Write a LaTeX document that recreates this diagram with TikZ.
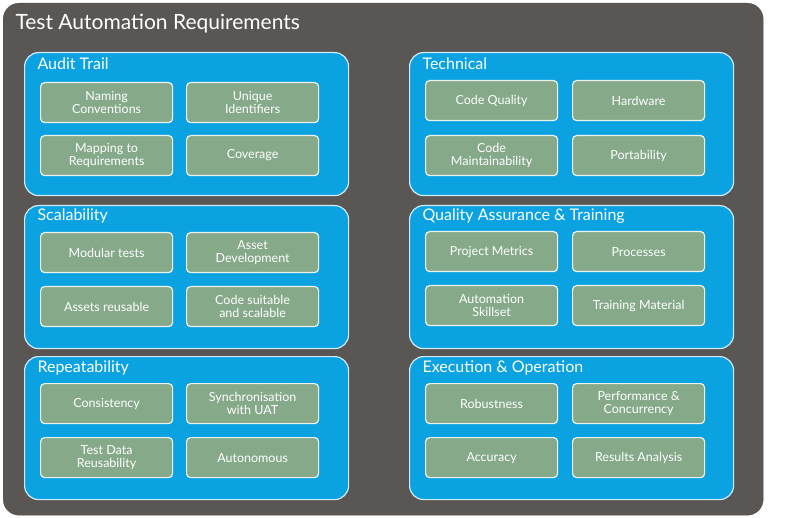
\documentclass[tikz,border=0pt]{standalone}
\usepackage{fontspec}
\setmainfont{Lato}
\definecolor{outerbg}{HTML}{5A5654}
\definecolor{panelblue}{HTML}{0BA2E2}
\definecolor{boxgreen}{HTML}{86A98A}
\begin{document}
\begin{tikzpicture}[x=1pt,y=-1pt,
  panel/.style={draw=white!80!panelblue,line width=1.2pt,fill=panelblue,rounded corners=14pt,minimum width=324pt,minimum height=143pt,anchor=north west},
  ptitle/.style={text=white,anchor=west,font=\fontsize{16}{18}\selectfont},
  item/.style={draw=white!85!boxgreen,line width=1.2pt,fill=boxgreen,rounded corners=4pt,minimum width=132pt,minimum height=40pt,text=white,align=center,font=\fontsize{12.5}{13.5}\selectfont,anchor=north west}]
\useasboundingbox (0,0) rectangle (800,518);
\node[fill=outerbg,draw=black!70,rounded corners=16pt,minimum width=760pt,minimum height=512pt,anchor=north west] (outer) at (3,3) {};
\node[text=white,anchor=west,font=\fontsize{21}{24}\selectfont] (title) at (12,24) {Test Automation Requirements};
% panels
\node[panel] (p1) at (24,52) {};
\node[panel] (p2) at (24,205) {};
\node[panel] (p3) at (24,356) {};
\node[panel] (p4) at (409,52) {};
\node[panel] (p5) at (409,205) {};
\node[panel] (p6) at (409,356) {};
\node[ptitle] (t1) at (34,64) {Audit Trail};
\node[ptitle] (t2) at (34,216) {Scalability};
\node[ptitle] (t3) at (34,368) {Repeatability};
\node[ptitle] (t4) at (419,64) {Technical};
\node[ptitle] (t5) at (419,216) {Quality Assurance \& Training};
\node[ptitle] (t6) at (419,368) {Execution \& Operation};
% audit
\node[item] (a1) at (40,82) {Naming\\Conventions};
\node[item] (a2) at (186,82) {Unique\\Identifiers};
\node[item] (a3) at (40,135) {Mapping to\\Requirements};
\node[item] (a4) at (186,135) {Coverage};
% scalability
\node[item] (s1) at (40,232) {Modular tests};
\node[item] (s2) at (186,232) {Asset\\Development};
\node[item] (s3) at (40,286) {Assets reusable};
\node[item] (s4) at (186,286) {Code suitable\\and scalable};
% repeatability
\node[item] (r1) at (40,383) {Consistency};
\node[item] (r2) at (186,383) {Synchronisation\\with UAT};
\node[item] (r3) at (40,437) {Test Data\\Reusability};
\node[item] (r4) at (186,437) {Autonomous};
% technical
\node[item] (c1) at (425,80) {Code Quality};
\node[item] (c2) at (572,80) {Hardware};
\node[item] (c3) at (425,135) {Code\\Maintainability};
\node[item] (c4) at (572,135) {Portability};
% QA
\node[item] (q1) at (425,231) {Project Metrics};
\node[item] (q2) at (572,231) {Processes};
\node[item] (q3) at (425,285) {Automation\\Skillset};
\node[item] (q4) at (572,285) {Training Material};
% execution
\node[item] (e1) at (425,383) {Robustness};
\node[item] (e2) at (572,383) {Performance \&\\Concurrency};
\node[item] (e3) at (425,437) {Accuracy};
\node[item] (e4) at (572,437) {Results Analysis};
\end{tikzpicture}
\end{document}
